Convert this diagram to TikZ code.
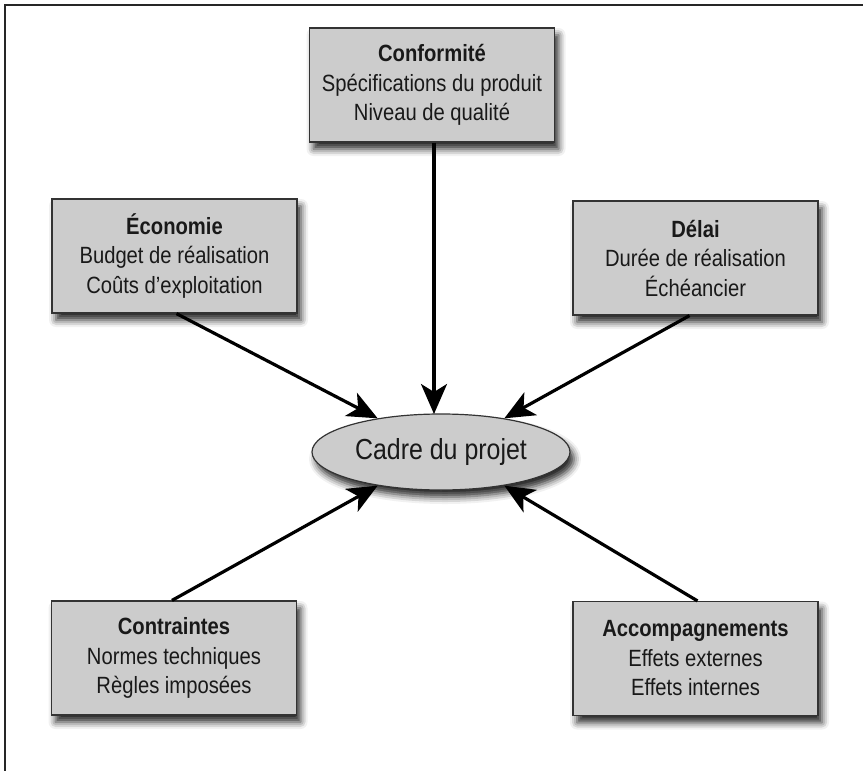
\documentclass[tikz,border=0pt]{standalone}
\usepackage{fontspec}
\setmainfont{Liberation Sans}[FakeStretch=0.86]
\usetikzlibrary{shadows.blur,arrows.meta,shapes.geometric}
\definecolor{boxgrey}{RGB}{204,204,204}
\tikzset{
  infobox/.style={draw=black!80, line width=1.2pt, fill=boxgrey, minimum width=245pt, minimum height=114pt,
    align=center, font=\fontsize{23.5}{29.5}\selectfont, inner sep=0pt, text=black!90,
    blur shadow={shadow xshift=4pt, shadow yshift=-7pt, shadow blur radius=7pt, shadow opacity=85}},
  centre/.style={ellipse, draw=black!80, line width=1.2pt, fill=boxgrey, minimum width=258pt, minimum height=76pt,
    font=\fontsize{29}{33}\selectfont, inner sep=0pt, text=black!90,
    blur shadow={shadow xshift=4pt, shadow yshift=-7pt, shadow blur radius=7pt, shadow opacity=85}},
  conn/.style={line width=3.2pt, -{Stealth[length=30pt, width=26pt, inset=8pt]}},
  frameline/.style={line width=2pt, black!85}
}
\begin{document}
\begin{tikzpicture}[x=1pt, y=-1pt]
\useasboundingbox (0,0) rectangle (863,771);
\coordinate (fa) at (5,771);
\coordinate (fb) at (5,5);
\coordinate (fc) at (863,5);
\draw[frameline] (fa) -- (fb) -- (fc);

\node[infobox] (conf) at (432,85) {\textbf{Conformité}\\Spécifications du produit\\Niveau de qualité};
\node[infobox] (eco) at (174.5,256) {\textbf{Économie}\\Budget de réalisation\\Coûts d'exploitation};
\node[infobox] (delai) at (695.5,258) {\textbf{Délai}\\Durée de réalisation\\Échéancier};
\node[infobox] (contr) at (174,658) {\textbf{Contraintes}\\Normes techniques\\Règles imposées};
\node[infobox] (acc) at (695.5,658.5) {\textbf{Accompagnements}\\Effets externes\\Effets internes};
\node[centre] (cadre) at (441,452) {Cadre du projet};

\draw[conn] (conf.south -| 434,0) -- (434,414);
\draw[conn] (eco.south) ++(2,0) -- (cadre.152);
\draw[conn] (delai.south) ++(-6,0) -- (cadre.28);
\draw[conn] (contr.north) ++(-2,0) -- (cadre.208);
\draw[conn] (acc.north) ++(2,0) -- (cadre.332);
\end{tikzpicture}
\end{document}
